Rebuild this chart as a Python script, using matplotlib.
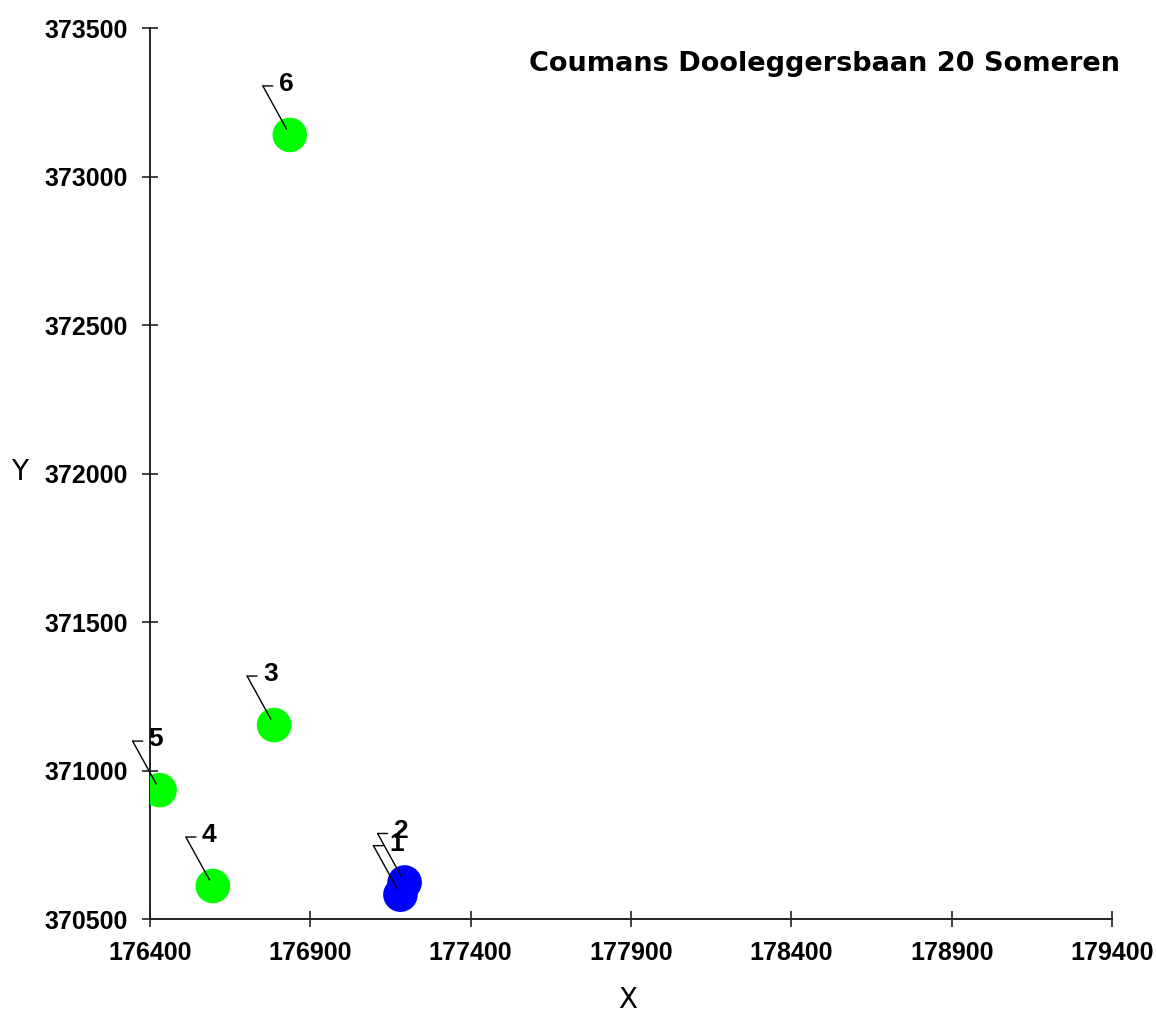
import numpy as np
import matplotlib
matplotlib.use("Agg")
import matplotlib.pyplot as plt
import matplotlib.transforms as mtransforms

plt.rcParams['font.family'] = ['Liberation Sans', 'DejaVu Sans']

# points (RD coordinates)
labels = ['1', '2', '3', '4', '5', '6']
xs = [177181, 177194, 176787, 176596, 176430, 176836]
ys = [370582, 370623, 371153, 370611, 370934, 373140]
colors = ['#0000ff', '#0000ff', '#00ff00', '#00ff00', '#00ff00', '#00ff00']

xticks = [176400, 176900, 177400, 177900, 178400, 178900, 179400]
yticks = [370500, 371000, 371500, 372000, 372500, 373000, 373500]
title = "Coumans Dooleggersbaan 20 Someren"

fig = plt.figure(figsize=(11.56, 10.13), dpi=100)
ax = fig.add_axes([150 / 1156, 94 / 1013, 962 / 1156, 891 / 1013])

ax.scatter(xs, ys, s=620, c=colors, edgecolors='none', zorder=3)

# leader lines + labels
for lbl, x, y in zip(labels, xs, ys):
    ax.annotate('', xy=(x, y), xytext=(-27, 49), textcoords='offset pixels',
                arrowprops=dict(arrowstyle='-', lw=1, color='black',
                                shrinkA=0, shrinkB=5), zorder=4)
    corner = mtransforms.offset_copy(ax.transData, fig=fig, x=-27, y=49, units='dots')
    ax.annotate('', xy=(x, y), xycoords=corner, xytext=(10, 0),
                textcoords='offset pixels',
                arrowprops=dict(arrowstyle='-', lw=1, color='black',
                                shrinkA=0, shrinkB=0), zorder=4)
    ax.annotate(lbl, xy=(x, y), xytext=(-11, 51), textcoords='offset pixels',
                ha='left', va='center', fontsize=19, fontweight='bold', zorder=5)

ax.set_xlim(xticks[0], xticks[-1])
ax.set_ylim(yticks[0], yticks[-1])
ax.set_xticks(xticks)
ax.set_yticks(yticks)
ax.set_xticklabels([str(t) for t in xticks], fontsize=18, fontweight='bold')
ax.set_yticklabels([str(t) for t in yticks], fontsize=18, fontweight='bold')
ax.tick_params(direction='inout', length=12, width=1.2, color='#222222', pad=10)

for s in ['top', 'right']:
    ax.spines[s].set_visible(False)
for s in ['left', 'bottom']:
    ax.spines[s].set_linewidth(1.4)
    ax.spines[s].set_color('#222222')

fig.text(628 / 1156, 1 - 1000 / 1013, 'X', fontsize=20, ha='center', va='center',
         family='DejaVu Sans')
fig.text(20 / 1156, 1 - 472 / 1013, 'Y', fontsize=20, ha='center', va='center',
         family='DejaVu Sans')
fig.text(1120 / 1156, 1 - 64 / 1013, title, fontsize=19.5, ha='right', va='center',
         family='DejaVu Sans', fontweight='bold')

fig.savefig('out.png', dpi=100)
